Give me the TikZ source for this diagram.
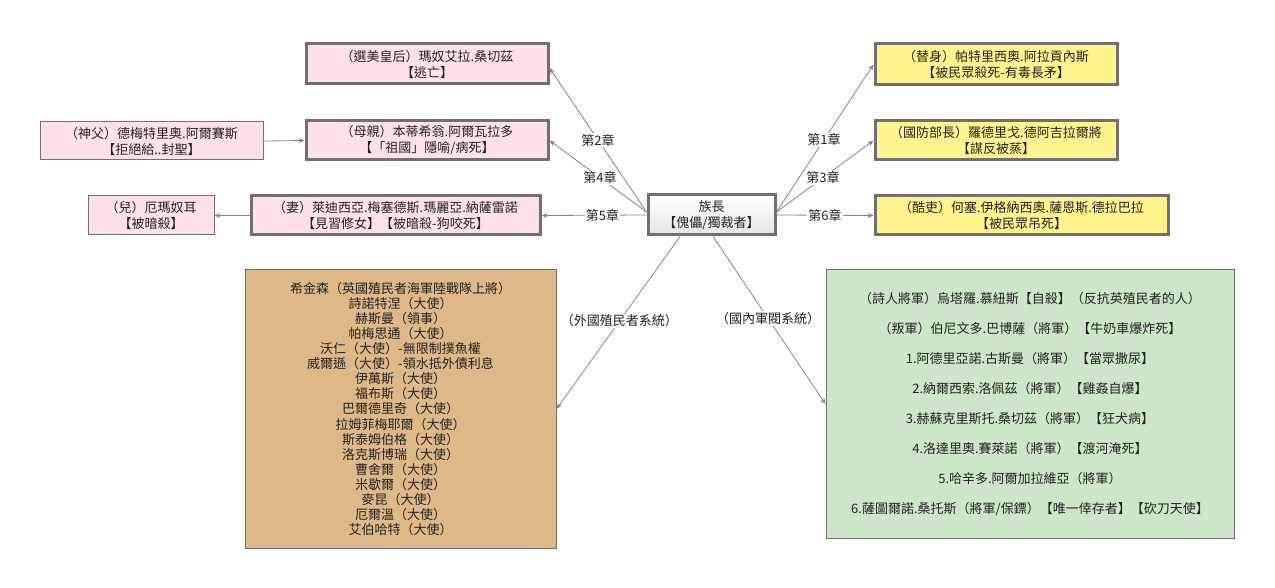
\documentclass[tikz,border=0pt]{standalone}
\usepackage{fontspec}
\setmainfont{Noto Sans CJK TC}
\usetikzlibrary{arrows.meta}
\definecolor{pinkf}{HTML}{FFE1E7}
\definecolor{yellowf}{HTML}{FFF38D}
\definecolor{brownf}{HTML}{DEB887}
\definecolor{greenf}{HTML}{CDE5C8}
\definecolor{bord}{HTML}{707070}
\definecolor{edgec}{HTML}{858585}
\definecolor{txt}{HTML}{222222}
\begin{document}
\begin{tikzpicture}[x=1pt,y=-1pt,
  base/.style={align=center, inner sep=0pt, text=txt, font=\fontsize{13}{16}\selectfont},
  thickbox/.style={base, draw=bord, line width=3pt},
  thinbox/.style={base, draw=bord, line width=1pt},
  conn/.style={draw=edgec, line width=0.8pt, -{Stealth[length=6pt,width=5pt]}},
  lbl/.style={fill=white, inner sep=1pt, text=txt, font=\fontsize{13}{14}\selectfont}]
\useasboundingbox (0,0) rectangle (1275,588);

% center
\node[thickbox, top color=white, bottom color=gray!20, minimum width=127pt, minimum height=40pt] (cen) at (711.5,215) {族長\\【傀儡/獨裁者】};

% left side
\node[thickbox, fill=pinkf, minimum width=242pt, minimum height=40pt] (q) at (427,64) {（選美皇后）瑪奴艾拉.桑切茲\\【逃亡】};
\node[thickbox, fill=pinkf, minimum width=242pt, minimum height=39pt] (mom) at (427,140.5) {（母親）本蒂希翁.阿爾瓦拉多\\【「祖國」隱喻/病死】};
\node[thinbox, fill=pinkf, minimum width=223pt, minimum height=38pt] (pr) at (151.5,141) {（神父）德梅特里奧.阿爾賽斯\\【拒絕給..封聖】};
\node[thickbox, fill=pinkf, minimum width=289pt, minimum height=39pt] (wife) at (395.5,215.5) {（妻）萊迪西亞.梅塞德斯.瑪麗亞.納薩雷諾\\【見習修女】【被暗殺-狗咬死】};
\node[thinbox, fill=pinkf, minimum width=126pt, minimum height=39pt] (son) at (151,215.5) {（兒）厄瑪奴耳\\【被暗殺】};

% right side
\node[thickbox, fill=yellowf, minimum width=242pt, minimum height=41pt] (dbl) at (996,64.5) {（替身）帕特里西奧.阿拉貢內斯\\【被民眾殺死-有毒長矛】};
\node[thickbox, fill=yellowf, minimum width=242pt, minimum height=39pt] (def) at (996,140.5) {（國防部長）羅德里戈.德阿吉拉爾將\\【謀反被蒸】};
\node[thickbox, fill=yellowf, minimum width=293pt, minimum height=39pt] (cru) at (1021.5,215.5) {（酷吏）何塞.伊格納西奧.薩恩斯.德拉巴拉\\【被民眾吊死】};

% bottom boxes
\node[thinbox, fill=brownf, minimum width=311pt, minimum height=278pt, font=\fontsize{13}{15.1}\selectfont] (brown) at (400.5,409) {希金森（英國殖民者海軍陸戰隊上將）\\詩諾特涅（大使）\\赫斯曼（領事）\\帕梅思通（大使）\\沃仁（大使）-無限制撲魚權\\威爾遜（大使）-領水抵外債利息\\伊萬斯（大使）\\福布斯（大使）\\巴爾德里奇（大使）\\拉姆菲梅耶爾（大使）\\斯泰姆伯格（大使）\\洛克斯博瑞（大使）\\曹舍爾（大使）\\米歇爾（大使）\\麥昆（大使）\\厄爾溫（大使）\\艾伯哈特（大使）};
\node[thinbox, fill=greenf, minimum width=408pt, minimum height=268pt, font=\fontsize{13}{29.9}\selectfont] (green) at (1030,404) {（詩人將軍）烏塔羅.慕紐斯【自殺】（反抗英殖民者的人）\\（叛軍）伯尼文多.巴博薩（將軍）【牛奶車爆炸死】\\1.阿德里亞諾.古斯曼（將軍）【當眾撒尿】\\2.納爾西索.洛佩茲（將軍）【雞姦自爆】\\3.赫蘇克里斯托.桑切茲（將軍）【狂犬病】\\4.洛達里奧.賽萊諾（將軍）【渡河淹死】\\5.哈辛多.阿爾加拉維亞（將軍）\\6.薩圖爾諾.桑托斯（將軍/保鏢）【唯一倖存者】【砍刀天使】};

% connectors
\draw[conn] ([yshift=3pt]cen.west) -- node[lbl]{第2章} ([yshift=-4pt]q.east);
\draw[conn] ([yshift=3pt]cen.west) -- node[lbl, pos=0.48]{第4章} (mom.east);
\draw[conn] (cen.west) -- node[lbl, pos=0.42]{第5章} (wife.east);
\draw[conn] ([yshift=3pt]cen.east) -- node[lbl, pos=0.49]{第1章} (dbl.west);
\draw[conn] ([yshift=3pt]cen.east) -- node[lbl, pos=0.48]{第3章} (def.west);
\draw[conn] (cen.east) -- node[lbl]{第6章} (cru.west);
\draw[conn] (pr.east) -- (mom.west);
\draw[conn] (wife.west) -- (son.east);
\draw[conn] ([xshift=-31.5pt]cen.south) -- node[lbl, pos=0.49]{（外國殖民者系統）} (brown.east);
\draw[conn] ([xshift=1.5pt]cen.south) -- node[lbl, pos=0.49]{（國內軍閥系統）} (green.west);
\end{tikzpicture}
\end{document}
